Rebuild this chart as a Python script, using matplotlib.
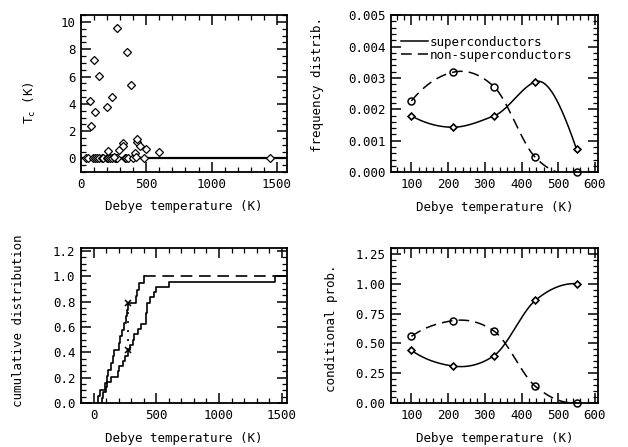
import matplotlib
matplotlib.use('Agg')
import matplotlib.pyplot as plt
import numpy as np
from matplotlib.ticker import MultipleLocator, FormatStrFormatter

# debye temperatures (K) and Tc (K) of the superconducting elements
super_theta = [70, 75, 103, 105, 138, 197, 205, 238, 252, 275, 290, 318, 325,
               351, 382, 415, 420, 428, 430, 450, 480, 500, 600, 1445]
super_tc = [4.2, 2.4, 7.25, 3.4, 6.05, 3.75, 0.55, 4.5, 0.13, 9.55, 0.6, 1.1,
            0.88, 7.8, 5.4, 0.38, 0.11, 1.2, 1.45, 0.93, 0.01, 0.66, 0.5, 0.03]
# debye temperatures of the non-superconductors (Tc = 0)
non_theta = [36, 54, 89, 110, 119, 140, 158, 165, 200, 210, 225, 240, 262,
             270, 278, 336, 343, 360, 400]

# binned frequency distributions
bin_centers = [100, 212.5, 325, 437.5, 550]
freq_super = [0.00179, 0.00143, 0.00179, 0.00288, 0.00073]
freq_non = [0.00227, 0.00318, 0.00272, 0.00047, 0.0]

# position of the largest cdf difference (K-S test)
ks_theta = 278

plt.rcParams['font.family'] = 'DejaVu Sans Mono'
plt.rcParams['font.size'] = 9


def spline(x, y, n=300):
    # akima spline through the points
    x = np.asarray(x, float)
    y = np.asarray(y, float)
    m = np.diff(y) / np.diff(x)
    mm = np.r_[3*m[0] - 2*m[1], 2*m[0] - m[1], m, 2*m[-1] - m[-2], 3*m[-1] - 2*m[-2]]
    t = np.zeros(len(x))
    for i in range(len(x)):
        w1 = abs(mm[i + 3] - mm[i + 2])
        w2 = abs(mm[i + 1] - mm[i])
        if w1 + w2 == 0:
            t[i] = 0.5 * (mm[i + 1] + mm[i + 2])
        else:
            t[i] = (w1 * mm[i + 1] + w2 * mm[i + 2]) / (w1 + w2)
    xs = np.linspace(x[0], x[-1], n)
    k = np.clip(np.searchsorted(x, xs) - 1, 0, len(x) - 2)
    h = x[k + 1] - x[k]
    s = (xs - x[k]) / h
    ys = (2*s**3 - 3*s**2 + 1) * y[k] + (s**3 - 2*s**2 + s) * h * t[k] \
        + (-2*s**3 + 3*s**2) * y[k + 1] + (s**3 - s**2) * h * t[k + 1]
    return xs, ys


def style(ax, xmaj, xmin, ymaj, ymin, yfmt):
    ax.xaxis.set_major_locator(MultipleLocator(xmaj))
    ax.xaxis.set_minor_locator(MultipleLocator(xmin))
    ax.yaxis.set_major_locator(MultipleLocator(ymaj))
    ax.yaxis.set_minor_locator(MultipleLocator(ymin))
    ax.yaxis.set_major_formatter(FormatStrFormatter(yfmt))
    ax.tick_params(which='both', direction='in', top=True, right=True, pad=4)
    ax.tick_params(which='major', length=7, width=1.1)
    ax.tick_params(which='minor', length=3.5, width=0.9)
    for sp in ax.spines.values():
        sp.set_linewidth(1.3)


fig = plt.figure(figsize=(6.28, 4.47), dpi=100)

# Tc versus Debye temperature
ax = fig.add_axes([0.129, 0.615, 0.3285, 0.351])
ax.axhline(0, color='black', lw=1.6, zorder=1)
ax.plot(non_theta, np.zeros(len(non_theta)), 'D', ms=4, mfc='white', mec='black', mew=0.9, zorder=2)
ax.plot(super_theta, super_tc, 'D', ms=4, mfc='white', mec='black', mew=0.9, zorder=3)
ax.set_xlim(0, 1580)
ax.set_ylim(-1, 10.5)
style(ax, 500, 100, 2, 0.5, '%d')
ax.set_xlabel('Debye temperature (K)', va='center')
ax.set_ylabel('T$_\\mathregular{c}$ (K)', va='center')
ax.xaxis.set_label_coords(0.5, -0.221)
ax.yaxis.set_label_coords(-0.247, 0.44)

# frequency distribution
ax = fig.add_axes([0.623, 0.615, 0.329, 0.351])
xs, ys = spline(bin_centers, freq_super)
ax.plot(xs, ys, color='black', lw=1.1, label='superconductors')
xs, ys = spline(bin_centers, freq_non)
ax.plot(xs, ys, color='black', lw=1.1, ls=(0, (7, 4)), label='non-superconductors')
ax.plot(bin_centers, freq_super, 'D', ms=3.5, mfc='white', mec='black', mew=1.2, clip_on=False)
ax.plot(bin_centers, freq_non, 'o', ms=5, mfc='none', mec='black', mew=1.1, clip_on=False)
ax.set_xlim(45, 608)
ax.set_ylim(0, 0.005)
style(ax, 100, 20, 0.001, 0.0002, '%.3f')
ax.legend(loc='upper left', bbox_to_anchor=(0.045, 0.87), frameon=False, borderpad=0,
          borderaxespad=0, handlelength=2.2, handletextpad=0.1, labelspacing=0.0)
ax.set_xlabel('Debye temperature (K)', va='center')
ax.set_ylabel('frequency distrib.', va='center')
ax.xaxis.set_label_coords(0.5, -0.223)
ax.yaxis.set_label_coords(-0.358, 0.558)

# cumulative distributions
ax = fig.add_axes([0.129, 0.0984, 0.3285, 0.347])
xlo, xhi = -100, 1545
s_sorted = np.sort(super_theta)
n_sorted = np.sort(non_theta)
s_cdf = np.arange(1, len(s_sorted) + 1) / len(s_sorted)
n_cdf = np.arange(1, len(n_sorted) + 1) / len(n_sorted)
ax.step(np.r_[s_sorted[0], s_sorted, xhi], np.r_[0, s_cdf, 1.0], where='post', color='black', lw=1.2)
ax.step(np.r_[n_sorted[0], n_sorted], np.r_[0, n_cdf], where='post', color='black', lw=1.2)
ax.plot([n_sorted[-1], xhi], [1.0, 1.0], color='black', lw=1.2, ls=(0, (7, 4)))
ks_s = np.searchsorted(s_sorted, ks_theta, side='right') / len(s_sorted)
ks_n = np.searchsorted(n_sorted, ks_theta, side='right') / len(n_sorted)
ax.plot([ks_theta, ks_theta], [ks_s, ks_n], color='black', lw=1.3, ls=(0, (1, 4)))
ax.plot([ks_theta, ks_theta], [ks_s, ks_n], 'x', ms=5, mec='black', mew=1.1)
ax.set_xlim(xlo, xhi)
ax.set_ylim(0, 1.225)
style(ax, 500, 100, 0.2, 0.05, '%.1f')
ax.set_xlabel('Debye temperature (K)', va='center')
ax.set_ylabel('cumulative distribution', va='center')
ax.xaxis.set_label_coords(0.5, -0.226)
ax.yaxis.set_label_coords(-0.305, 0.532)

# conditional probability
ax = fig.add_axes([0.623, 0.0984, 0.329, 0.347])
fs = np.array(freq_super)
fn = np.array(freq_non)
cond_super = fs / (fs + fn)
cond_non = fn / (fs + fn)
xs, ys = spline(bin_centers, cond_super)
ax.plot(xs, ys, color='black', lw=1.1)
xs, ys = spline(bin_centers, cond_non)
ax.plot(xs, ys, color='black', lw=1.1, ls=(0, (7, 4)))
ax.plot(bin_centers, cond_super, 'D', ms=3.5, mfc='white', mec='black', mew=1.2, clip_on=False)
ax.plot(bin_centers, cond_non, 'o', ms=5, mfc='none', mec='black', mew=1.1, clip_on=False)
ax.set_xlim(45, 608)
ax.set_ylim(0, 1.3)
style(ax, 100, 20, 0.25, 0.05, '%.2f')
ax.set_xlabel('Debye temperature (K)', va='center')
ax.set_ylabel('conditional prob.', va='center')
ax.xaxis.set_label_coords(0.5, -0.226)
ax.yaxis.set_label_coords(-0.287, 0.484)

plt.savefig('out.png', dpi=100, facecolor='white')
